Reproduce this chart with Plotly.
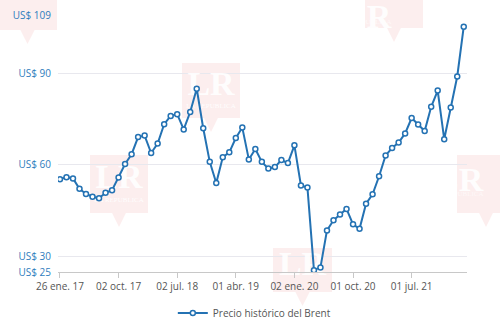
import plotly.graph_objects as go

# Monthly Brent closing price (USD per barrel), Jan 2017 - Mar 2022
fechas = [
    "26 ene. 17", "01 feb. 17", "01 mar. 17", "03 abr. 17", "02 may. 17", "01 jun. 17",
    "03 jul. 17", "01 ago. 17", "01 sept. 17", "02 oct. 17", "01 nov. 17", "01 dic. 17",
    "02 ene. 18", "01 feb. 18", "01 mar. 18", "02 abr. 18", "01 may. 18", "01 jun. 18",
    "02 jul. 18", "01 ago. 18", "03 sept. 18", "01 oct. 18", "01 nov. 18", "03 dic. 18",
    "02 ene. 19", "01 feb. 19", "01 mar. 19", "01 abr. 19", "01 may. 19", "03 jun. 19",
    "01 jul. 19", "01 ago. 19", "02 sept. 19", "01 oct. 19", "01 nov. 19", "02 dic. 19",
    "02 ene. 20", "03 feb. 20", "02 mar. 20", "01 abr. 20", "01 may. 20", "01 jun. 20",
    "01 jul. 20", "03 ago. 20", "01 sept. 20", "01 oct. 20", "02 nov. 20", "01 dic. 20",
    "04 ene. 21", "01 feb. 21", "01 mar. 21", "01 abr. 21", "03 may. 21", "01 jun. 21",
    "01 jul. 21", "02 ago. 21", "01 sept. 21", "01 oct. 21", "01 nov. 21", "01 dic. 21",
    "03 ene. 22", "01 feb. 22", "01 mar. 22",
]

precio_brent = [
    55.3, 56.0, 55.6, 52.2, 50.5, 49.6, 49.1, 50.9, 51.7, 55.9, 60.3, 63.5,
    69.1, 69.6, 63.9, 67.0, 73.3, 76.0, 76.6, 71.6, 77.3, 84.9, 72.0, 61.0,
    54.1, 62.5, 64.1, 68.8, 72.2, 61.8, 65.2, 61.0, 58.8, 59.3, 61.6, 60.6,
    66.4, 53.3, 52.6, 25.6, 26.5, 38.6, 41.9, 43.8, 45.6, 40.6, 39.1, 47.3,
    50.4, 56.3, 63.1, 65.5, 67.3, 70.3, 75.3, 73.2, 71.1, 79.0, 84.3, 68.4,
    78.8, 88.9, 105.2,
]

y_ticks = [25, 30, 60, 90, 109]
y_tick_text = ["US$ 25", "US$ 30", "US$ 60", "US$ 90", "US$ 109"]
x_ticks = fechas[::9]

serie = "Precio histórico del Brent"
azul = "#2472b3"
font_family = "Open Sans"

# Page geometry in pixels; the brand marks are laid out in this space
W, H = 500, 330
L, R, T, B = 58, 33, 15, 58
pw, ph = W - L - R, H - T - B
# (x0, y0, x1, y1, draw letters)
marcas = [(-2, -25, 57, 30, False), (365, -27, 423, 28, True),
          (182, 63, 240, 118, True), (90, 155, 148, 213, True),
          (457, 155, 515, 213, True), (273, 248, 332, 292, True)]
rosa = "rgba(226, 70, 70, 0.09)"
blanco = "rgba(255,255,255,0.92)"


def px_x(x):
    return (x - L) / pw


def px_y(y):
    return (H - B - y) / ph


fig = go.Figure()

# Brand marks: boxes with a speech tail; letters inside the plot area are a
# text trace (so the price line stays on top), the rest are annotations
shapes = []
annotations = []
lr_x, lr_y, sub_x, sub_y = [], [], [], []
for x0, y0, x1, y1, con_letras in marcas:
    cx = (x0 + x1) / 2
    tx0, tx1 = x0 + 0.38 * (x1 - x0), x0 + 0.62 * (x1 - x0)
    shapes.append(dict(type="rect", xref="paper", yref="paper",
                       x0=px_x(x0), x1=px_x(x1), y0=px_y(y1), y1=px_y(y0),
                       fillcolor=rosa, line=dict(width=0), layer="below"))
    path = (f"M {px_x(tx0)},{px_y(y1)} L {px_x(tx1)},{px_y(y1)} "
            f"L {px_x(cx)},{px_y(y1 + 14)} Z")
    shapes.append(dict(type="path", xref="paper", yref="paper", path=path,
                       fillcolor=rosa, line=dict(width=0), layer="below"))
    if not con_letras:
        continue
    ly = y0 + (y1 - y0) * 0.42
    sy = y0 + (y1 - y0) * 0.78
    if L <= cx <= W - R and T <= ly <= H - B:
        lr_x.append(cx)
        lr_y.append(ly)
        sub_x.append(cx)
        sub_y.append(sy)
    else:
        annotations.append(dict(xref="paper", yref="paper", x=px_x(cx),
                                y=px_y(ly), text="<b>LR</b>", showarrow=False,
                                font=dict(family="Liberation Serif", size=34,
                                          color=blanco)))
        annotations.append(dict(xref="paper", yref="paper", x=px_x(cx),
                                y=px_y(sy), text="LA REPUBLICA",
                                showarrow=False,
                                font=dict(family="Liberation Serif", size=7,
                                          color="rgba(255,255,255,0.6)")))

fig.add_trace(go.Scatter(
    x=lr_x, y=lr_y, mode="text", text=["<b>LR</b>"] * len(lr_x),
    textfont=dict(family="Liberation Serif", size=34, color=blanco),
    xaxis="x", yaxis="y", cliponaxis=False, showlegend=False, hoverinfo="skip",
))
fig.add_trace(go.Scatter(
    x=sub_x, y=sub_y, mode="text", text=["LA REPUBLICA"] * len(sub_x),
    textfont=dict(family="Liberation Serif", size=7, color=blanco),
    xaxis="x", yaxis="y", cliponaxis=False, showlegend=False, hoverinfo="skip",
))

fig.add_trace(go.Scatter(
    x=fechas, y=precio_brent, name=serie,
    mode="lines+markers",
    line=dict(color=azul, width=2),
    marker=dict(symbol="circle", size=5, color="white",
                line=dict(color=azul, width=1.5)),
    xaxis="x2", yaxis="y2", showlegend=True,
))

fig.update_layout(
    width=W, height=H,
    margin=dict(l=L, r=R, t=T, b=B, autoexpand=False),
    paper_bgcolor="white",
    plot_bgcolor="rgba(0,0,0,0)",
    font=dict(family=font_family, size=10, color="#555555"),
    shapes=shapes,
    annotations=annotations,
    showlegend=True,
    legend=dict(orientation="h", x=0.48, xanchor="center", y=-0.16,
                yanchor="middle", font=dict(size=10, color="#555555"),
                bgcolor="rgba(0,0,0,0)"),
    # pixel-space helper axes (hidden)
    xaxis=dict(range=[L, W - R], visible=False, fixedrange=True),
    yaxis=dict(range=[H - B, T], visible=False, fixedrange=True),
    xaxis2=dict(
        type="category", range=[-0.3, 62.5], overlaying="x", anchor="y2",
        tickmode="array", tickvals=x_ticks, ticktext=x_ticks,
        showgrid=False, showline=True, linecolor="#c8c8c8", linewidth=1,
        ticks="outside", ticklen=5, tickcolor="#c8c8c8",
        tickfont=dict(size=10, color="#555555"),
        zeroline=False, fixedrange=True,
    ),
    yaxis2=dict(
        range=[25, 109], overlaying="y", anchor="x2", side="left",
        tickmode="array", tickvals=y_ticks,
        ticktext=y_tick_text, showgrid=True, gridcolor="#e8e8ee",
        gridwidth=1, zeroline=False, showline=False, ticks="",
        tickfont=dict(size=10, color="#2f7dbd"),
        ticklabelstandoff=6, fixedrange=True,
    ),
)

fig.write_html("out.html")
